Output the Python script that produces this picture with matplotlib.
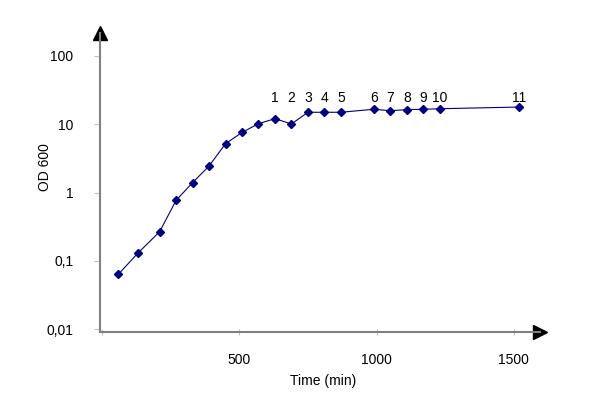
import matplotlib
matplotlib.use("Agg")
import matplotlib.pyplot as plt
import matplotlib.transforms as mtransforms

plt.rcParams['font.family'] = ['Liberation Sans', 'DejaVu Sans']

# Data
time_min = [60, 130, 210, 270, 330, 390, 450, 510, 570, 630, 690, 750, 810,
            870, 990, 1050, 1110, 1170, 1230, 1520]
od600 = [0.064, 0.129, 0.268, 0.77, 1.40, 2.45, 5.2, 7.6, 10.2, 12.1, 10.1,
         15.0, 15.0, 15.0, 16.6, 15.8, 16.4, 16.6, 16.9, 17.9]
sample_labels = ['1', '2', '3', '4', '5', '6', '7', '8', '9', '10', '11']

x_ticks = [0, 500, 1000, 1500]
x_tick_labels = ['', '500', '1000', '1500']
y_ticks = [0.01, 0.1, 1, 10, 100]
y_tick_labels = ['0,01', '0,1', '1', '10', '100']

fig = plt.figure(figsize=(6, 4.05), dpi=100)
ax = fig.add_axes([100/600, 0.1802, 440/600, 0.7383])

ax.plot(time_min, od600, color='#000080', lw=0.8, marker='D', ms=4.5,
        markerfacecolor='#000080', markeredgecolor='#000080', clip_on=False)

ax.set_yscale('log')
ax.set_xlim(-7, 1595)
ax.set_ylim(10**-2.0395, 10**2.336)

ax.set_xticks(x_ticks)
ax.set_xticklabels(x_tick_labels)
ax.set_yticks(y_ticks)
ax.set_yticklabels(y_tick_labels)
ax.minorticks_off()
ax.tick_params(axis='x', direction='inout', length=4, color='#c0c0c0',
               labelsize=10, pad=13)
ax.tick_params(axis='y', direction='out', length=4, color='#c0c0c0',
               labelsize=10, pad=15)

for s in ['top', 'right']:
    ax.spines[s].set_visible(False)
for s in ['left', 'bottom']:
    ax.spines[s].set_color('#808080')
    ax.spines[s].set_linewidth(1.5)

# arrows at axis ends
ax.plot([1], [0], marker='>', ms=10, color='black', transform=ax.transAxes,
        clip_on=False)
ax.plot([0], [1], marker='^', ms=10, color='black', transform=ax.transAxes,
        clip_on=False)

# sample labels above last points
trans = mtransforms.blended_transform_factory(ax.transData, ax.transAxes)
for lab, xv in zip(sample_labels, time_min[-len(sample_labels):]):
    ax.text(xv, 0.783, lab, transform=trans, ha='center', va='center',
            fontsize=10)

ax.set_xlabel('Time (min)', fontsize=10, va='center')
ax.set_ylabel('OD 600', fontsize=10, va='center')
ax.xaxis.set_label_coords(0.507, -0.164)
ax.yaxis.set_label_coords(-0.125, 0.552)

fig.savefig('out.png', dpi=100)
